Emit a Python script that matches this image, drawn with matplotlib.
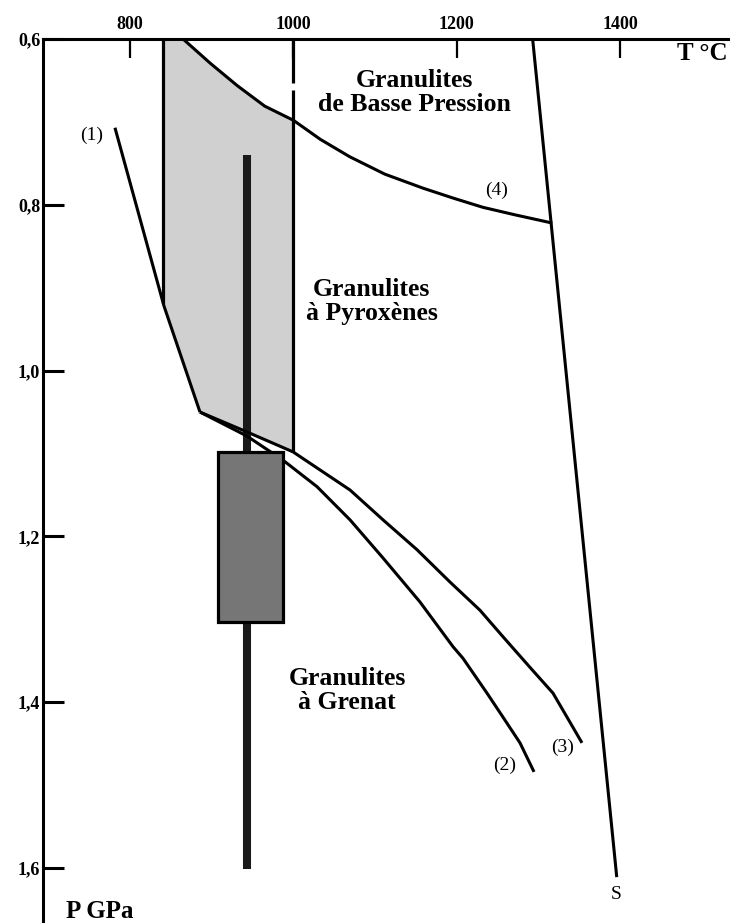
import matplotlib
matplotlib.use("Agg")
import matplotlib.pyplot as plt
from matplotlib.patches import Polygon, Rectangle

# Axis ticks: temperature (°C) on top, pressure (GPa) downwards
t_ticks = [800, 1000, 1200, 1400]
t_labels = ["800", "1000", "1200", "1400"]
p_ticks = [0.6, 0.8, 1.0, 1.2, 1.4, 1.6]
p_labels = ["0,6", "0,8", "1,0", "1,2", "1,4", "1,6"]

# Reaction curves (T in °C, P in GPa)
curve1_T = [781.6, 841.6, 885.7]
curve1_P = [0.707, 0.922, 1.050]
curve2_T = [885.7, 943.3, 987.3, 1029.0, 1069.4, 1109.8, 1155.0, 1195.5,
            1207.7, 1237.1, 1256.7, 1277.5, 1294.7]
curve2_P = [1.050, 1.079, 1.108, 1.140, 1.180, 1.226, 1.279, 1.333,
            1.347, 1.389, 1.418, 1.449, 1.484]
curve3_T = [885.7, 943.3, 999.6, 1069.4, 1109.8, 1151.4, 1191.8, 1228.5,
            1256.7, 1289.8, 1317.9, 1335.1, 1353.4]
curve3_P = [1.050, 1.074, 1.098, 1.144, 1.180, 1.216, 1.255, 1.289,
            1.321, 1.358, 1.389, 1.418, 1.449]
curve4_T = [865, 898, 931, 965, 1000, 1033, 1069, 1112, 1159, 1196, 1232,
            1271, 1317]
curve4_P = [0.600, 0.629, 0.656, 0.681, 0.698, 0.721, 0.742, 0.763, 0.780,
            0.792, 0.803, 0.812, 0.822]
solidus_T = [1293, 1396]
solidus_P = [0.600, 1.611]

# Shaded field between 840 and 1000 °C
field_T = [840, 1000]
field_P_top = 0.600
field_P_left = 0.917
field_P_right = 1.098
dash_gap = [0.653, 0.662]

# Estimated conditions: box and vertical bar
box_T = [908, 987]
box_P = [1.098, 1.303]
bar_T = 943
bar_P = [0.740, 1.601]

SERIF = ["Liberation Serif", "DejaVu Serif"]

fig = plt.figure(figsize=(7.38, 9.23), dpi=100)
ax = fig.add_axes([43 / 738, 0.0, (728 - 43) / 738, (923 - 39) / 923])
ax.set_xlim(693.5, 1532.2)
ax.set_ylim(1.6663, 0.6)

for side in ("right", "bottom"):
    ax.spines[side].set_visible(False)
for side in ("left", "top"):
    ax.spines[side].set_linewidth(2.2)

ax.xaxis.tick_top()
ax.set_xticks(t_ticks)
ax.set_xticklabels(t_labels, fontfamily=SERIF, fontweight="bold", fontsize=13)
ax.set_yticks(p_ticks)
ax.set_yticklabels(p_labels, fontfamily=SERIF, fontweight="bold", fontsize=13)
ax.tick_params(axis="x", direction="in", length=14, width=1.6, pad=4)
ax.tick_params(axis="y", direction="in", length=15, width=2.2, pad=2)

# Light shaded field
field = [(field_T[0], field_P_top)]
field += [(t, p) for t, p in zip(curve4_T, curve4_P) if t <= field_T[1]]
field += [(field_T[1], field_P_right)]
field += [(t, p) for t, p in zip(curve3_T[::-1], curve3_P[::-1]) if t < field_T[1]]
field += [(curve1_T[1], curve1_P[1]), (field_T[0], field_P_left)]
ax.add_patch(Polygon(field, closed=True, facecolor="#d0d0d0",
                     edgecolor="none", zorder=1))

# Field edges
ax.plot([field_T[0], field_T[0]], [field_P_top, field_P_left],
        color="black", lw=2.3, zorder=3)
ax.plot([field_T[1], field_T[1]], [field_P_top, dash_gap[0]],
        color="black", lw=2.3, zorder=3, solid_capstyle="butt")
ax.plot([field_T[1], field_T[1]], [dash_gap[1], field_P_right],
        color="black", lw=2.3, zorder=3, solid_capstyle="butt")

# Vertical bar
ax.plot([bar_T, bar_T], bar_P, color="#1a1a1a", lw=5.8,
        solid_capstyle="butt", zorder=4)

# Curves
kw = dict(color="black", lw=2.2, zorder=5, solid_joinstyle="round",
          solid_capstyle="butt")
ax.plot(curve1_T, curve1_P, **kw)
ax.plot(curve2_T, curve2_P, **kw)
ax.plot(curve3_T, curve3_P, **kw)
ax.plot(curve4_T, curve4_P, **kw)
ax.plot(solidus_T, solidus_P, **kw)

# Dark box
ax.add_patch(Rectangle((box_T[0], box_P[0]), box_T[1] - box_T[0],
                       box_P[1] - box_P[0], facecolor="#767676",
                       edgecolor="black", lw=2.3, zorder=6))

# Field names
fkw = dict(fontfamily=SERIF, fontweight="bold", fontsize=18.5, ha="center",
           va="center", linespacing=1.05, zorder=7)
ax.text(1147.7, 0.6645, "Granulites\nde Basse Pression", **fkw)
ax.text(1096, 0.917, "Granulites\nà Pyroxènes", **fkw)
ax.text(1065.7, 1.386, "Granulites\nà Grenat", **fkw)

# Curve labels
lkw = dict(fontfamily=SERIF, fontsize=14, ha="center", va="center", zorder=7)
ax.text(753.5, 0.716, "(1)", **lkw)
ax.text(1259, 1.476, "(2)", **lkw)
ax.text(1330, 1.455, "(3)", **lkw)
ax.text(1249, 0.782, "(4)", **lkw)
ax.text(1395, 1.632, "S", **lkw)

# Axis titles
ax.text(1532, 0.617, "T °C", fontfamily=SERIF, fontweight="bold",
        fontsize=18, ha="right", va="center", clip_on=False)
ax.text(722, 1.652, "P GPa", fontfamily=SERIF, fontweight="bold",
        fontsize=18, ha="left", va="center", clip_on=False)

fig.savefig("out.png", dpi=100)
